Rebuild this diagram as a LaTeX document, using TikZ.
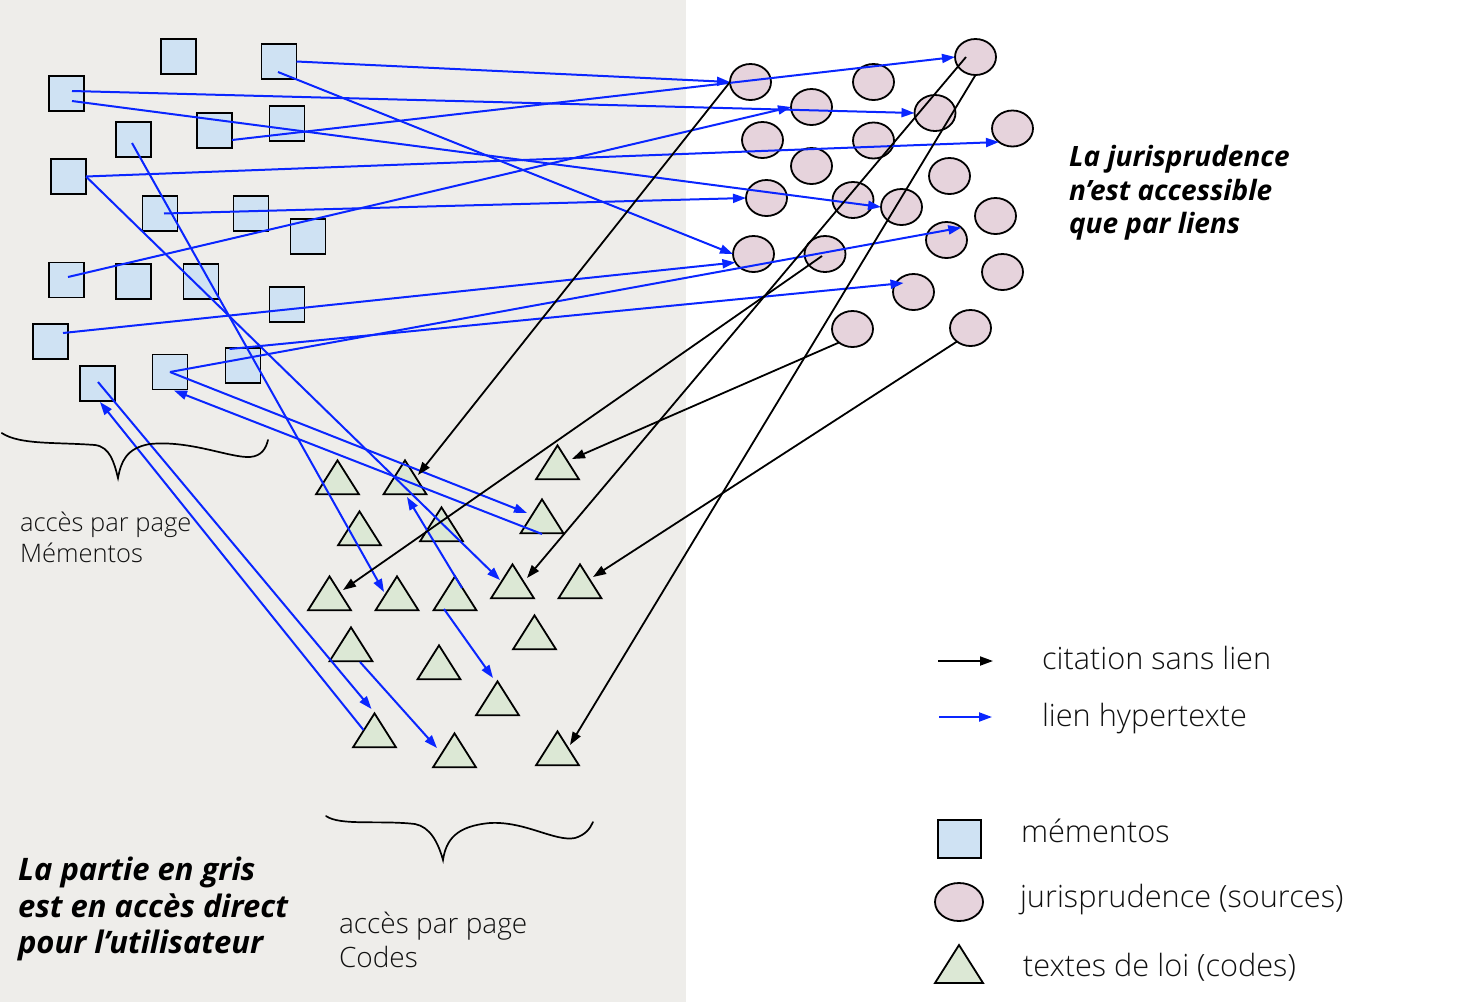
\documentclass[tikz,border=0pt]{standalone}
\usepackage{fontspec}
\setmainfont{Open Sans}
\newfontfamily\osl{Open Sans Light}
\usetikzlibrary{shapes.geometric,arrows.meta,calc}
\definecolor{bgray}{HTML}{EEEDEA}
\definecolor{sqfill}{HTML}{CFE2F3}
\definecolor{cifill}{HTML}{E6D3DC}
\definecolor{trfill}{HTML}{DCE8D5}
\definecolor{lnkblue}{HTML}{0A26FF}
\definecolor{txt}{HTML}{111111}
\begin{document}
\begin{tikzpicture}[x=1pt,y=-1pt,
  memo/.style={draw=black,line width=1.8pt,fill=sqfill,minimum size=35pt,inner sep=0pt,outer sep=0pt},
  juri/.style={ellipse,draw=black,line width=1.8pt,fill=cifill,minimum width=41pt,minimum height=36pt,inner sep=0pt,outer sep=0pt},
  code/.style={regular polygon,regular polygon sides=3,draw=black,line width=1.8pt,fill=trfill,minimum size=49.6pt,inner sep=0pt,outer sep=0pt,yscale=0.913},
  link/.style={draw=lnkblue,line width=2pt,-{Triangle[length=13pt,width=9pt]}},
  cite/.style={draw=black,line width=1.8pt,-{Triangle[length=13pt,width=9pt]}},
  lbl/.style={anchor=base west,inner sep=0pt,outer sep=0pt,text=txt},
  bolde/.style={anchor=base west,inner sep=0pt,outer sep=0pt,text=black},
  brace/.style={draw=black,line width=1.7pt,line cap=round}
]
\useasboundingbox (0,0) rectangle (1474,1002);
\fill[white] (0,0) rectangle (1474,1002);
\fill[bgray] (0,0) rectangle (686,1002);

% mementos (squares)
\node[memo] (s1) at (178.5,56.5) {};
\node[memo] (s2) at (279,61.5) {};
\node[memo] (s3) at (66.5,93.5) {};
\node[memo] (s4) at (133.5,139.5) {};
\node[memo] (s5) at (214.5,130.5) {};
\node[memo] (s6) at (287,123.5) {};
\node[memo] (s7) at (68.5,176.5) {};
\node[memo] (s8) at (160,213.5) {};
\node[memo] (s9) at (251,213.5) {};
\node[memo] (s10) at (308,236.5) {};
\node[memo] (s11) at (66.5,280) {};
\node[memo] (s12) at (133.5,281.5) {};
\node[memo] (s13) at (201,281.5) {};
\node[memo] (s14) at (287,304.5) {};
\node[memo] (s15) at (50.5,341.5) {};
\node[memo] (s16) at (97.5,383.5) {};
\node[memo] (s17) at (170,372) {};
\node[memo] (s18) at (243,365.5) {};

% jurisprudence (ellipses)
\node[juri] (c1) at (750.5,82) {};
\node[juri] (c2) at (873.5,82) {};
\node[juri] (c3) at (975.5,57) {};
\node[juri] (c4) at (811.5,107) {};
\node[juri] (c5) at (935,113) {};
\node[juri] (c6) at (762.5,140) {};
\node[juri] (c7) at (873.5,140.5) {};
\node[juri] (c8) at (1012.5,128.5) {};
\node[juri] (c9) at (811.5,166) {};
\node[juri] (c10) at (949.5,176) {};
\node[juri] (c11) at (766.5,198) {};
\node[juri] (c12) at (853,200) {};
\node[juri] (c13) at (901.5,207) {};
\node[juri] (c14) at (995.5,216) {};
\node[juri] (c15) at (753.5,254) {};
\node[juri] (c16) at (825,254) {};
\node[juri] (c17) at (946.5,240) {};
\node[juri] (c18) at (1002.5,272) {};
\node[juri] (c19) at (913.5,292) {};
\node[juri] (c20) at (852.5,329) {};
\node[juri] (c21) at (970.5,328) {};

% codes (triangles)
\node[code] (t1) at (337.5,483) {};
\node[code] (t2) at (405,483) {};
\node[code] (t3) at (557.5,468) {};
\node[code] (t4) at (359.5,534) {};
\node[code] (t5) at (441.5,530) {};
\node[code] (t6) at (542,522) {};
\node[code] (t7) at (329.5,599) {};
\node[code] (t8) at (397,599) {};
\node[code] (t9) at (455,599) {};
\node[code] (t10) at (512.5,587) {};
\node[code] (t11) at (580,587) {};
\node[code] (t12) at (534.5,638) {};
\node[code] (t13) at (351,650) {};
\node[code] (t14) at (439,668) {};
\node[code] (t15) at (497.5,704) {};
\node[code] (t16) at (374.5,736) {};
\node[code] (t17) at (454.5,756) {};
\node[code] (t18) at (557.5,754) {};

% hypertext links
\draw[link] (s2.east) -- (c1.west);
\draw[link] ($(s2.center)+(-1,10.5)$) -- (c15.west);
\draw[link] ($(s3.center)+(5.5,-2.5)$) -- (c5.west);
\draw[link] ($(s3.center)+(5.5,7.5)$) -- (c13.west);
\draw[link] ($(s5.east)+(0,9.5)$) -- (c3.west);
\draw[link] (s7.east) -- (c8.225);
\draw[link] (s7.east) -- ($(t10.center)+(-12.5,-7)$);
\draw[link] ($(s8.center)+(4,0)$) -- (c11.west);
\draw[link] ($(s4.center)+(-1.5,3.5)$) -- ($(t8.center)+(-13,-7)$);
\draw[link] ($(s11.center)+(1.5,-3)$) -- (c4.west);
\draw[link] ($(s15.center)+(12.5,-8.5)$) -- (c15.205);
\draw[link] (s17.center) -- (c17.40);
\draw[link] ($(s18.north west)+(4,1)$) -- ($(c19.center)+(-10,-9)$);
\draw[link] (s17.center) -- ($(t6.center)+(-15,-9)$);
\draw[link] ($(t6.center)+(0,12)$) -- ($(s17.south)+(4,1)$);
\draw[link] ($(s16.center)+(0.5,-1.5)$) -- ($(t16.center)+(-3,-27)$);
\draw[link] ($(t16.center)+(-11,-6)$) -- ($(s16.south)+(2.5,1)$);
\draw[link] ($(t9.center)+(7,-11)$) -- ($(t2.center)+(2,14)$);
\draw[link] ($(t9.center)+(-11,10)$) -- ($(t15.center)+(-4.5,-26)$);
\draw[link] ($(t13.center)+(9,12)$) -- ($(t17.center)+(-17.5,-8)$);

% citations without link
\draw[cite] (c1.west) -- ($(t2.center)+(13,-8)$);
\draw[cite] ($(c3.center)+(-9.5,0)$) -- ($(t10.center)+(14.5,-9)$);
\draw[cite] (c3.south) -- ($(t18.center)+(12.5,-9)$);
\draw[cite] ($(c16.center)+(-3,2)$) -- ($(t7.center)+(13.5,-9)$);
\draw[cite] (c20.225) -- ($(t3.center)+(14.5,-9)$);
\draw[cite] (c21.225) -- ($(t11.center)+(13,-10)$);

% braces
\draw[brace] (1.7,433) .. controls (20,445) and (55,442) .. (95,445)
  .. controls (110,447) and (114,462) .. (118,478)
  .. controls (121,462) and (126,448) .. (150,444)
  .. controls (190,440) and (230,458) .. (250,457)
  .. controls (262,456) and (266,448) .. (268,440);
\draw[brace] (326,816) .. controls (340,826) and (380,820) .. (415,824)
  .. controls (430,827) and (438,842) .. (443,860)
  .. controls (446,840) and (456,826) .. (490,823)
  .. controls (525,821) and (555,842) .. (575,838)
  .. controls (585,835) and (590,829) .. (593,822);

% texts
\node[lbl,font=\osl\fontsize{25.5}{30}\selectfont] (tm1) at (20,531) {accès par page};
\node[lbl,font=\osl\fontsize{25.5}{30}\selectfont] (tm2) at (20,562) {Mémentos};
\node[lbl,font=\osl\fontsize{28}{33}\selectfont] (tc1) at (339,933) {accès par page};
\node[lbl,font=\osl\fontsize{28}{33}\selectfont] (tc2) at (339,967) {Codes};

\node[bolde,font=\fontsize{31}{36}\selectfont\bfseries\itshape] (g1) at (18,880) {La partie en gris};
\node[bolde,font=\fontsize{31}{36}\selectfont\bfseries\itshape] (g2) at (18,917) {est en accès direct};
\node[bolde,font=\fontsize{31}{36}\selectfont\bfseries\itshape] (g3) at (18,953.5) {pour l’utilisateur};

\node[bolde,font=\fontsize{28}{33}\selectfont\bfseries\itshape] (j1) at (1069,166.5) {La jurisprudence};
\node[bolde,font=\fontsize{28}{33}\selectfont\bfseries\itshape] (j2) at (1069,200) {n’est accessible};
\node[bolde,font=\fontsize{28}{33}\selectfont\bfseries\itshape] (j3) at (1069,233.5) {que par liens};

% legend
\coordinate (k1a) at (938,661);
\coordinate (k1b) at (993,661);
\draw[cite] (k1a) -- (k1b);
\coordinate (k2a) at (939,717);
\coordinate (k2b) at (992,717);
\draw[link] (k2a) -- (k2b);
\node[lbl,font=\osl\fontsize{30.7}{35}\selectfont] (l1) at (1042,669) {citation sans lien};
\node[lbl,font=\osl\fontsize{30.7}{35}\selectfont] (l2) at (1042,726) {lien hypertexte};

\node[memo,minimum width=43pt,minimum height=38pt] (lm) at (959.5,839) {};
\node[juri,minimum width=48pt,minimum height=38pt] (lj) at (959,902) {};
\node[code,minimum size=55.4pt] (lc) at (959,970.3) {};
\node[lbl,font=\osl\fontsize{30.7}{35}\selectfont] (l3) at (1021,842) {mémentos};
\node[lbl,font=\osl\fontsize{30.7}{35}\selectfont] (l4) at (1020,907.5) {jurisprudence (sources)};
\node[lbl,font=\osl\fontsize{30.7}{35}\selectfont] (l5) at (1023,976.5) {textes de loi (codes)};
\end{tikzpicture}
\end{document}
